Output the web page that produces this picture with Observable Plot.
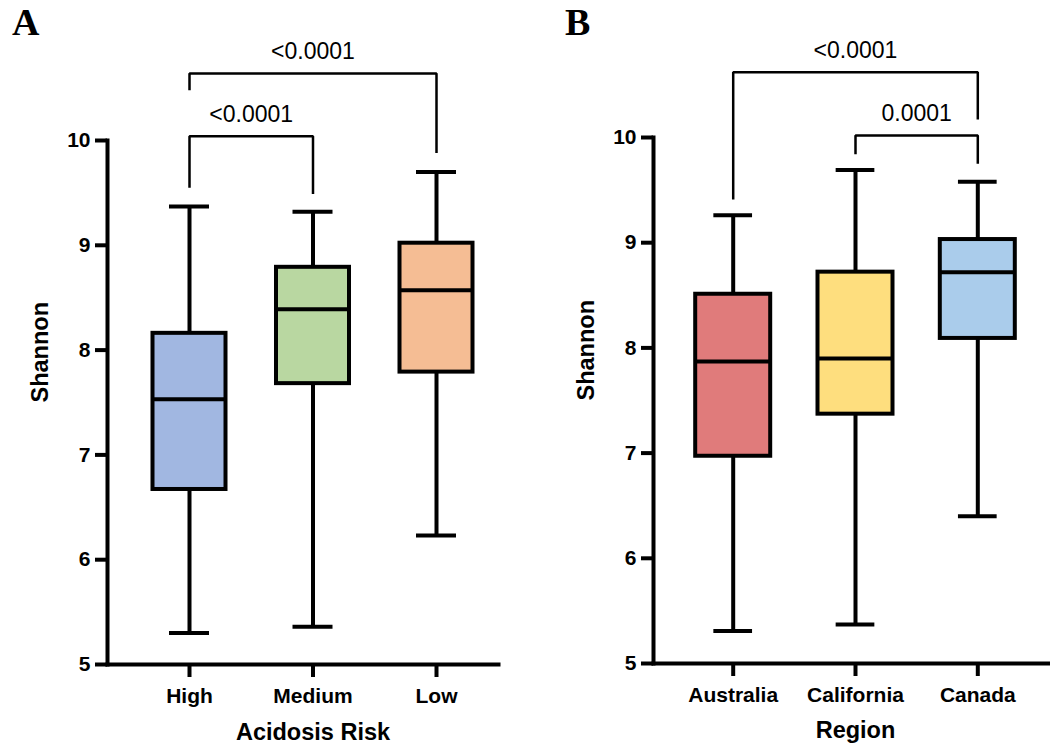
<!DOCTYPE html>
<html><head><meta charset="utf-8">
<script src="https://cdn.jsdelivr.net/npm/d3@7"></script>
<script src="https://cdn.jsdelivr.net/npm/@observablehq/plot@0.6"></script>
<style>
body{margin:0;background:#fff;}
#wrap{position:relative;width:1050px;height:744px;overflow:hidden;background:#fff;}
.panel{position:absolute;top:0;}
.letter{position:absolute;font-family:"Liberation Serif","Times New Roman",serif;font-weight:bold;font-size:38px;line-height:38px;}
</style></head>
<body><div id="wrap">
<div class="panel" id="pa" style="left:0"></div>
<div class="panel" id="pb" style="left:525px"></div>
<div class="letter" style="left:12px;top:3px">A</div>
<div class="letter" style="left:565px;top:3px">B</div>
</div>
<script>
// Panel A: Acidosis risk
const riskCategories = ["High", "Medium", "Low"];
const riskMin    = [5.30, 5.36, 6.23];
const riskQ1     = [6.67, 7.68, 7.79];
const riskMedian = [7.53, 8.39, 8.57];
const riskQ3     = [8.16, 8.79, 9.02];
const riskMax    = [9.37, 9.32, 9.70];
const riskColors = ["#A1B7E1", "#B9D7A1", "#F5BD94"];
const riskPairFrom = [0, 0];
const riskPairTo   = [1, 2];
const riskBracketY = [10.04, 10.64];
const riskLeftEnd  = [9.55, 10.48];
const riskRightEnd = [9.49, 9.88];
const riskPLabels  = ["<0.0001", "<0.0001"];

// Panel B: Region
const regionCategories = ["Australia", "California", "Canada"];
const regionMin    = [5.31, 5.37, 6.40];
const regionQ1     = [6.97, 7.37, 8.09];
const regionMedian = [7.87, 7.90, 8.72];
const regionQ3     = [8.51, 8.72, 9.03];
const regionMax    = [9.26, 9.69, 9.58];
const regionColors = ["#E07B7B", "#FEDE7E", "#AACCEB"];
const regionPairFrom = [0, 1];
const regionPairTo   = [2, 2];
const regionBracketY = [10.62, 10.02];
const regionLeftEnd  = [9.41, 9.84];
const regionRightEnd = [10.17, 9.75];
const regionPLabels  = ["<0.0001", "0.0001"];

const yTicks = [5, 6, 7, 8, 9, 10];

function boxPanel(o) {
  const {cats, mins, q1s, meds, q3s, maxs, colors, pairFrom, pairTo, bracketY, leftEnd, rightEnd, pLabels, xTitle, L} = o;
  const boxes = cats.map((c, i) => ({i, min: mins[i], q1: q1s[i], med: meds[i], q3: q3s[i], max: maxs[i], color: colors[i]}));
  const brackets = pairFrom.flatMap((f, k) => [
    {k, x: f, y: leftEnd[k]}, {k, x: f, y: bracketY[k]},
    {k, x: pairTo[k], y: bracketY[k]}, {k, x: pairTo[k], y: rightEnd[k]}
  ]);
  const labels = pLabels.map((t, k) => ({x: (pairFrom[k] + pairTo[k]) / 2, y: bracketY[k], t}));
  const step = (L.lastCenter - L.firstCenter) / (cats.length - 1);
  const boxInset = (step - L.boxWidth) / 2;
  const capInset = (step - L.capWidth) / 2;
  const lo = d => d.i - 0.5, hi = d => d.i + 0.5;
  const titleFont = {fontFamily: "Liberation Sans, Arial, sans-serif", fontWeight: "bold", fontSize: 23.5};
  const tickFont = {fontFamily: "Liberation Sans, Arial, sans-serif", fontWeight: "bold", fontSize: 21};
  return Plot.plot({
    width: 525, height: 744,
    marginLeft: L.marginLeft, marginRight: L.marginRight, marginTop: L.marginTop, marginBottom: L.marginBottom,
    style: {fontFamily: "Liberation Sans, Arial, sans-serif", fontWeight: "bold", fontSize: "21px", color: "black", background: "transparent", overflow: "visible"},
    x: {domain: [0, cats.length - 1], range: [L.firstCenter, L.lastCenter]},
    y: {domain: [5, 10]},
    color: {type: "identity"},
    marks: [
      Plot.ruleX(boxes, {x: "i", y1: "min", y2: "max", stroke: "black", strokeWidth: 4}),
      Plot.ruleY(boxes, {x1: lo, x2: hi, y: "min", insetLeft: capInset, insetRight: capInset, stroke: "black", strokeWidth: 4}),
      Plot.ruleY(boxes, {x1: lo, x2: hi, y: "max", insetLeft: capInset, insetRight: capInset, stroke: "black", strokeWidth: 4}),
      Plot.rect(boxes, {x1: lo, x2: hi, y1: "q1", y2: "q3", insetLeft: boxInset, insetRight: boxInset, fill: d => d.color, stroke: "black", strokeWidth: 4}),
      Plot.ruleY(boxes, {x1: lo, x2: hi, y: "med", insetLeft: boxInset, insetRight: boxInset, stroke: "black", strokeWidth: 4}),
      Plot.line(brackets, {x: "x", y: "y", z: "k", stroke: "black", strokeWidth: 2.5, strokeLinejoin: "miter", strokeLinecap: "butt"}),
      Plot.text(labels, {x: "x", y: "y", text: "t", dy: -14, lineAnchor: "bottom", fontFamily: "Liberation Sans, Arial, sans-serif", fontWeight: "normal", fontSize: 23, fill: "black"}),
      Plot.axisY({ticks: yTicks, tickFormat: d3.format("d"), tickSize: 12, tickPadding: 5, strokeWidth: 4, label: null, ...tickFont}),
      Plot.axisX({ticks: d3.range(cats.length), tickFormat: i => cats[i], tickSize: 13, tickPadding: 11, strokeWidth: 4, label: null, ...tickFont}),
      Plot.frame({anchor: "left", stroke: "black", strokeWidth: 4, strokeLinecap: "square"}),
      Plot.frame({anchor: "bottom", stroke: "black", strokeWidth: 4, strokeLinecap: "square"}),
      Plot.text([xTitle], {x: () => (cats.length - 1) / 2, frameAnchor: "bottom", dy: L.xTitleDy, lineAnchor: "bottom", text: d => d, ...titleFont}),
      Plot.text(["Shannon"], {frameAnchor: "left", dx: -67, rotate: -90, text: d => d, ...titleFont})
    ]
  });
}

document.getElementById("pa").append(boxPanel({
  cats: riskCategories, mins: riskMin, q1s: riskQ1, meds: riskMedian, q3s: riskQ3, maxs: riskMax, colors: riskColors,
  pairFrom: riskPairFrom, pairTo: riskPairTo, bracketY: riskBracketY, leftEnd: riskLeftEnd, rightEnd: riskRightEnd, pLabels: riskPLabels,
  xTitle: "Acidosis Risk",
  L: {marginLeft: 107, marginRight: 27, marginTop: 140, marginBottom: 80, firstCenter: 189, lastCenter: 436, boxWidth: 73, capWidth: 40, xTitleDy: 75}
}));
document.getElementById("pb").append(boxPanel({
  cats: regionCategories, mins: regionMin, q1s: regionQ1, meds: regionMedian, q3s: regionQ3, maxs: regionMax, colors: regionColors,
  pairFrom: regionPairFrom, pairTo: regionPairTo, bracketY: regionBracketY, leftEnd: regionLeftEnd, rightEnd: regionRightEnd, pLabels: regionPLabels,
  xTitle: "Region",
  L: {marginLeft: 128, marginRight: 0, marginTop: 137, marginBottom: 81, firstCenter: 207.7, lastCenter: 452.3, boxWidth: 75, capWidth: 38.7, xTitleDy: 74}
}));
</script>
</body></html>
